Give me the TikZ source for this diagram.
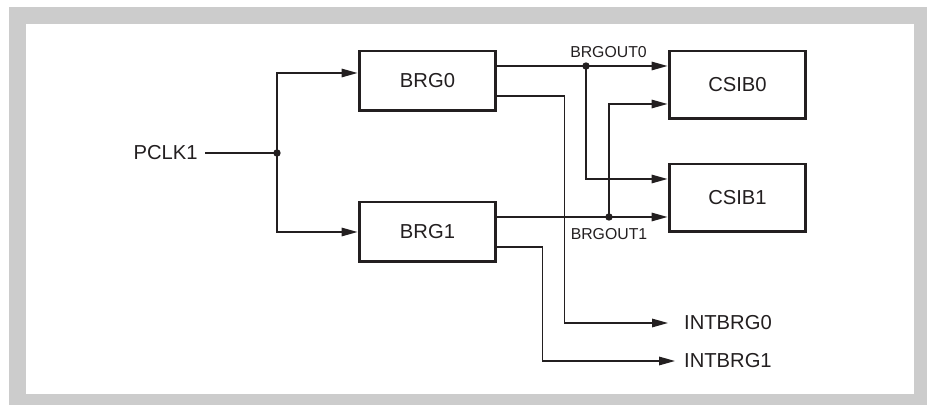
\documentclass[tikz,border=0pt]{standalone}
\usepackage{fontspec}
\setmainfont{Liberation Sans}
\usetikzlibrary{arrows.meta, positioning, calc}
\definecolor{framegray}{HTML}{CCCCCC}
\definecolor{ink}{HTML}{231F20}
\begin{document}
\begin{tikzpicture}[
        x=0.02cm, y=-0.02cm,
        every node/.style={text=ink},
        block/.style={draw=ink, line width=1.7pt, minimum width=2.74cm,
            minimum height=1.2cm, font=\fontsize{11.5}{13}\selectfont},
        csib/.style={block, minimum height=1.36cm},
        sig/.style={draw=ink, line width=0.8pt, -{Triangle[length=9pt, width=4.8pt]}},
        wire/.style={draw=ink, line width=0.8pt},
        dot/.style={circle, fill=ink, inner sep=0pt, minimum size=4.2pt},
        lbl/.style={font=\fontsize{11.5}{13}\selectfont, inner ysep=1pt},
        tag/.style={font=\fontsize{9}{10}\selectfont, inner sep=0pt},
    ]
        % Frame
        \useasboundingbox (0,0) rectangle (927,405);
        \fill[framegray] (9,7) rectangle (927,405);
        \fill[white] (26,24) rectangle (914,394);

        % Blocks
        \node[block] (brg0) at (427.5,81) {BRG0};
        \node[block] (brg1) at (427.5,232) {BRG1};
        \node[csib] (csib0) at (737.5,85) {CSIB0};
        \node[csib] (csib1) at (737.5,198) {CSIB1};

        % Inputs and outputs
        \node[lbl, anchor=east, inner xsep=4pt] (pclk) at (205,153) {PCLK1};
        \coordinate (jn) at (277,153);
        \node[lbl, anchor=west, inner xsep=9pt] (int0) at (668,323) {INTBRG0};
        \node[lbl, anchor=west, inner xsep=5pt] (int1) at (675,361) {INTBRG1};

        % Clock distribution
        \draw[wire] (pclk.east) -- (jn);
        \draw[sig] (jn) |- ($(brg0.west)+(0,-8)$);
        \draw[sig] (jn) |- (brg1.west);
        \node[dot] at (jn) {};

        % Baud rate outputs
        \draw[sig] ($(brg0.east)+(0,-15)$) -- ($(csib0.west)+(0,-19)$);
        \draw[sig] ($(brg1.east)+(0,-15)$) -- ($(csib1.west)+(0,19)$);
        \node[dot] (d0) at (586,66) {};
        \node[dot] (d1) at (609,217) {};
        \draw[sig] (d0.center) |- ($(csib1.west)+(0,-19)$);
        \draw[sig] (d1.center) |- ($(csib0.west)+(0,19)$);
        \node[tag, anchor=base] at (608.5,58) {BRGOUT0};
        \node[tag, anchor=base] at (609,240) {BRGOUT1};

        % Interrupt outputs
        \draw[sig] ($(brg0.east)+(0,15)$) -- ++(67,0) |- (int0.west);
        \draw[sig] ($(brg1.east)+(0,15)$) -- ++(45,0) |- (int1.west);
    \end{tikzpicture}
\end{document}
